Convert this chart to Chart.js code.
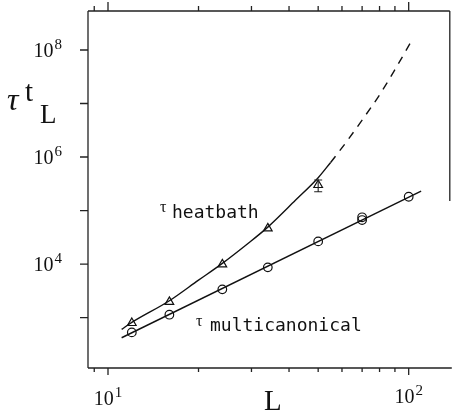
<!DOCTYPE html>
<html>
<head>
<meta charset="utf-8">
<script src="https://cdn.jsdelivr.net/npm/chart.js@4"></script>
<style>
  body { margin: 0; background: #fff; }
  #wrap { width: 456px; height: 415px; }
</style>
</head>
<body>
<div id="wrap"><canvas id="tauChart" width="456" height="415"></canvas></div>
<script>
// measured points: lattice size L and autocorrelation time tau
var heatL = [12, 16, 24, 34, 50];
var heatTau = [790, 1960, 9860, 46400, 300000];
var heatErr = [null, null, null, null, [224000, 372000]];

var multiL = [12, 16, 24, 34, 50, 70, 70, 100];
var multiTau = [528, 1130, 3365, 8670, 26500, 74700, 66400, 181000];

// fit curves
var heatFitL = [11.1, 12, 16, 20, 24, 29, 34, 42, 50, 55];
var heatFitTau = [600, 810, 2060, 5000, 10300, 23500, 49000, 155000, 410000, 790000];
var heatDashL = [55, 62, 70, 80, 90, 102];
var heatDashTau = [790000, 1900000, 4900000, 14500000, 43000000, 145000000];
var multiFitL = [11.1, 110];
var multiFitTau = [419, 230000];

// axis ticks
var xMajor = [10, 100];
var xMinor = [9, 20, 30, 40, 50, 60, 70, 80, 90];
var yDecades = [3, 4, 5, 6, 7, 8];
var yLabelled = [4, 6, 8];

function pts(xs, ys) {
  return xs.map(function (x, i) { return { x: x, y: ys[i] }; });
}

var serif = '"Liberation Serif", "DejaVu Serif", serif';
var mono = '"DejaVu Sans Mono", "Liberation Mono", monospace';

var framePlugin = {
  id: 'frame',
  afterDraw: function (chart) {
    var ctx = chart.ctx;
    var a = chart.chartArea;
    var xs = chart.scales.x, ys = chart.scales.y;
    ctx.save();
    ctx.strokeStyle = '#222';
    ctx.lineWidth = 1.3;
    ctx.beginPath();
    ctx.moveTo(a.left, a.top); ctx.lineTo(a.left, a.bottom);
    ctx.moveTo(a.left, a.bottom); ctx.lineTo(a.right + 2, a.bottom);
    ctx.moveTo(a.left, a.top); ctx.lineTo(a.right, a.top);
    ctx.moveTo(a.right, a.top); ctx.lineTo(a.right, a.top + 190);
    ctx.stroke();

    // x ticks top and bottom
    ctx.beginPath();
    xMajor.forEach(function (v) {
      var px = xs.getPixelForValue(v);
      ctx.moveTo(px, a.bottom); ctx.lineTo(px, a.bottom + 7);
      ctx.moveTo(px, a.top); ctx.lineTo(px, a.top - 9);
    });
    xMinor.forEach(function (v) {
      var px = xs.getPixelForValue(v);
      ctx.moveTo(px, a.bottom); ctx.lineTo(px, a.bottom + 4);
      ctx.moveTo(px, a.top); ctx.lineTo(px, a.top - 5);
    });
    yDecades.forEach(function (d) {
      var py = ys.getPixelForValue(Math.pow(10, d));
      ctx.moveTo(a.left, py); ctx.lineTo(a.left - 8, py);
    });
    ctx.stroke();

    // error bar on the L=50 heatbath point
    ctx.lineWidth = 1.1;
    heatErr.forEach(function (e, i) {
      if (!e) return;
      var px = xs.getPixelForValue(heatL[i]);
      var lo = ys.getPixelForValue(e[0]), hi = ys.getPixelForValue(e[1]);
      ctx.beginPath();
      ctx.moveTo(px, lo); ctx.lineTo(px, hi);
      ctx.moveTo(px - 4, lo); ctx.lineTo(px + 4, lo);
      ctx.moveTo(px - 4, hi); ctx.lineTo(px + 4, hi);
      ctx.stroke();
    });

    ctx.fillStyle = '#111';
    ctx.textBaseline = 'alphabetic';

    function pow10(x, y, exp, align) {
      ctx.font = '20px ' + serif;
      var w1 = ctx.measureText('10').width;
      ctx.font = '15px ' + serif;
      var w2 = ctx.measureText(String(exp)).width;
      var x0 = align === 'center' ? x - (w1 + w2 + 1) / 2 : x - (w1 + w2 + 1);
      ctx.textAlign = 'left';
      ctx.font = '20px ' + serif;
      ctx.fillText('10', x0, y);
      ctx.font = '15px ' + serif;
      ctx.fillText(String(exp), x0 + w1 + 1, y - 8);
    }

    pow10(xs.getPixelForValue(10), a.bottom + 37, 1, 'center');
    pow10(xs.getPixelForValue(100), a.bottom + 35, 2, 'center');
    yLabelled.forEach(function (d) {
      pow10(a.left - 26, ys.getPixelForValue(Math.pow(10, d)) + 7, d, 'right');
    });

    // axis titles
    ctx.textAlign = 'center';
    ctx.font = '29px ' + serif;
    ctx.fillText('L', (a.left + a.right) / 2 + 4, a.bottom + 42);

    ctx.textAlign = 'left';
    ctx.font = 'italic 32px ' + serif;
    ctx.fillText('\u03c4', 7, 110);
    ctx.font = '29px ' + serif;
    ctx.fillText('t', 25, 101);
    ctx.font = '27px ' + serif;
    ctx.fillText('L', 40, 123);

    // curve labels
    ctx.font = '16px ' + serif;
    ctx.fillText('\u03c4', 160, 212);
    ctx.fillText('\u03c4', 196, 326);
    ctx.font = '18px ' + mono;
    ctx.fillText('heatbath', 172, 218);
    ctx.fillText('multicanonical', 210, 331);
    ctx.restore();
  }
};

new Chart(document.getElementById('tauChart').getContext('2d'), {
  type: 'scatter',
  data: {
    datasets: [
      {
        data: pts(heatFitL, heatFitTau), showLine: true, pointRadius: 0,
        borderColor: '#111', borderWidth: 1.4, cubicInterpolationMode: 'monotone'
      },
      {
        data: pts(heatDashL, heatDashTau), showLine: true, pointRadius: 0,
        borderColor: '#111', borderWidth: 1.4, borderDash: [8, 7], cubicInterpolationMode: 'monotone'
      },
      {
        data: pts(multiFitL, multiFitTau), showLine: true, pointRadius: 0,
        borderColor: '#111', borderWidth: 1.4
      },
      {
        data: pts(heatL, heatTau), pointStyle: 'triangle', pointRadius: 5,
        borderColor: '#111', borderWidth: 1.2, backgroundColor: 'rgba(255,255,255,0)'
      },
      {
        data: pts(multiL, multiTau), pointStyle: 'circle', pointRadius: 4.3,
        borderColor: '#111', borderWidth: 1.2, backgroundColor: 'rgba(255,255,255,0)'
      }
    ]
  },
  options: {
    responsive: false,
    animation: false,
    layout: { padding: { left: 88, right: 2, top: 11, bottom: 47 } },
    plugins: { legend: { display: false }, tooltip: { enabled: false } },
    scales: {
      x: { type: 'logarithmic', min: 8.58, max: 137, display: false },
      y: { type: 'logarithmic', min: 114, max: 5.36e8, display: false }
    }
  },
  plugins: [framePlugin]
});
</script>
</body>
</html>
